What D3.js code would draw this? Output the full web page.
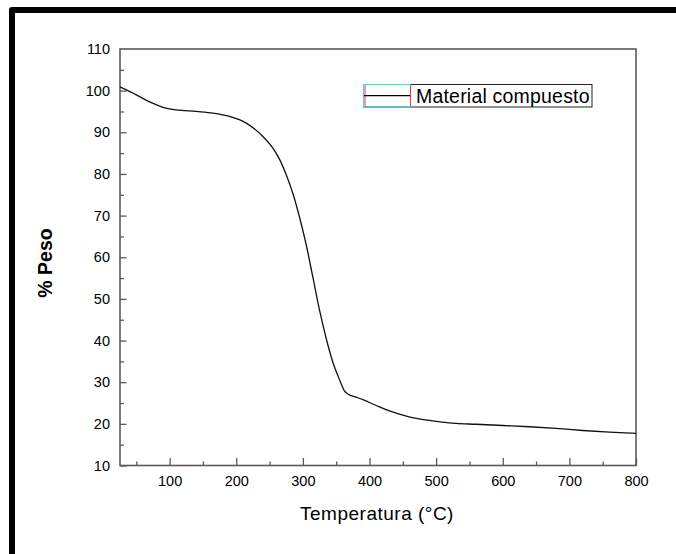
<!DOCTYPE html>
<html>
<head>
<meta charset="utf-8">
<script src="https://cdn.jsdelivr.net/npm/d3@7"></script>
<style>
  html, body { margin: 0; padding: 0; background: #fff; }
  svg { display: block; }
  text { font-family: "Liberation Sans", Arial, sans-serif; fill: #000; }
</style>
</head>
<body>
<svg id="chart" width="676" height="554"></svg>
<script>
// Data (temperature in °C, weight %)
const temperature = [25.5, 50, 70, 90, 110, 140, 165, 190, 215, 240, 255, 265, 275, 285, 295, 305, 315, 325, 335, 345, 355, 362, 368, 380, 390, 410, 430, 450, 470, 500, 530, 560, 600, 640, 680, 720, 760, 800];
const weight      = [100.9, 99.0, 97.3, 96.0, 95.4, 95.0, 94.6, 93.8, 92.2, 89.0, 86.2, 83.5, 79.8, 75.3, 69.6, 63.0, 55.2, 47.3, 40.5, 34.8, 30.6, 28.0, 27.1, 26.4, 25.8, 24.4, 23.1, 22.1, 21.3, 20.6, 20.1, 19.9, 19.6, 19.3, 18.9, 18.4, 18.0, 17.7];
const xTicks = [100, 200, 300, 400, 500, 600, 700, 800];
const xMinorTicks = [50, 150, 250, 350, 450, 550, 650, 750];
const yTicks = [10, 20, 30, 40, 50, 60, 70, 80, 90, 100, 110];
const yMinorTicks = [15, 25, 35, 45, 55, 65, 75, 85, 95, 105];
const seriesName = "Material compuesto";
const xTitle = "Temperatura (°C)";
const yTitle = "% Peso";

const svg = d3.select("#chart");
const L = 120, R = 636, T = 49, B = 465.5;
const x = d3.scaleLinear().domain([25.5, 800]).range([L, R]);
const y = d3.scaleLinear().domain([10, 110]).range([B, T]);
const axisColor = "#5a5a5a";

// Outer frame (thick black border)
svg.append("path")
  .attr("d", "M12,560 L12,10 L690,10")
  .attr("fill", "none").attr("stroke", "#000").attr("stroke-width", 6)
  .attr("stroke-linejoin", "round");

// Plot box
svg.append("rect").attr("x", L).attr("y", T).attr("width", R - L).attr("height", B - T)
  .attr("fill", "none").attr("stroke", axisColor).attr("stroke-width", 1.6);

// X axis
const gx = svg.append("g").attr("transform", `translate(0,${B})`)
  .call(d3.axisBottom(x).tickValues(xTicks).tickSize(-7.5).tickPadding(13).tickFormat(d3.format("d")));
gx.select(".domain").remove();
gx.selectAll(".tick line").attr("stroke", axisColor).attr("stroke-width", 1.3);
gx.selectAll("text").attr("font-size", "14.5px").attr("dy", "0.55em").style("font-family", "'Liberation Sans', Arial, sans-serif");
svg.append("g").attr("transform", `translate(0,${B})`)
  .call(d3.axisBottom(x).tickValues(xMinorTicks).tickSize(-4).tickFormat(""))
  .call(g => g.select(".domain").remove())
  .selectAll(".tick line").attr("stroke", axisColor).attr("stroke-width", 1.3);

// Y axis
const gy = svg.append("g").attr("transform", `translate(${L},0)`)
  .call(d3.axisLeft(y).tickValues(yTicks).tickSize(-6.5).tickPadding(10).tickFormat(d3.format("d")));
gy.select(".domain").remove();
gy.selectAll(".tick line").attr("stroke", axisColor).attr("stroke-width", 1.3);
gy.selectAll("text").attr("font-size", "14.5px").style("font-family", "'Liberation Sans', Arial, sans-serif");
gy.selectAll(".tick").filter(d => d === 110).select("line").remove();
svg.append("g").attr("transform", `translate(${L},0)`)
  .call(d3.axisLeft(y).tickValues(yMinorTicks).tickSize(-4).tickFormat(""))
  .call(g => g.select(".domain").remove())
  .selectAll(".tick line").attr("stroke", axisColor).attr("stroke-width", 1.3);

// Curve
const pts = temperature.map((t, i) => [t, weight[i]]);
svg.append("path").datum(pts)
  .attr("fill", "none").attr("stroke", "#111").attr("stroke-width", 1.3)
  .attr("d", d3.line().x(d => x(d[0])).y(d => y(d[1])).curve(d3.curveMonotoneX));

// Axis titles
svg.append("text").attr("x", (L + R) / 2 - 1).attr("y", 519.5)
  .attr("text-anchor", "middle").attr("font-size", "19px").attr("letter-spacing", "0.5px")
  .text(xTitle);
svg.append("text").attr("transform", "translate(52,263) rotate(-90)")
  .attr("text-anchor", "middle").attr("font-size", "19.5px").attr("font-weight", "bold")
  .text(yTitle);

// Legend
const lg = svg.append("g");
lg.append("rect").attr("x", 363.5).attr("y", 84.5).attr("width", 228.5).attr("height", 22.5)
  .attr("fill", "#fff").attr("stroke", "#222").attr("stroke-width", 1);
lg.append("rect").attr("x", 363.5).attr("y", 84.5).attr("width", 47).attr("height", 22.5)
  .attr("fill", "none").attr("stroke", "#33e8f0").attr("stroke-width", 1);
lg.append("line").attr("x1", 365).attr("x2", 365).attr("y1", 85).attr("y2", 106.5)
  .attr("stroke", "#e8323c").attr("stroke-width", 1);
lg.append("line").attr("x1", 410.5).attr("x2", 410.5).attr("y1", 85).attr("y2", 106.5)
  .attr("stroke", "#e8323c").attr("stroke-width", 1);
lg.append("line").attr("x1", 364).attr("x2", 410).attr("y1", 95.7).attr("y2", 95.7)
  .attr("stroke", "#000").attr("stroke-width", 1.3);
lg.append("text").attr("x", 416).attr("y", 102.5).attr("font-size", "19.5px").attr("letter-spacing", "0.2px")
  .text(seriesName);
</script>
</body>
</html>
